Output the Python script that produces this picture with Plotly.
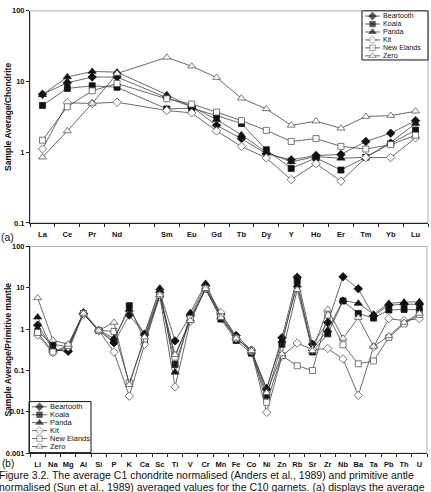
import plotly.graph_objects as go

# ---------------- data ----------------
ree_slots = ["La", "Ce", "Pr", "Nd", "Pm", "Sm", "Eu", "Gd", "Tb", "Dy", "Y", "Ho", "Er", "Tm", "Yb", "Lu"]
ree_elements = ["La", "Ce", "Pr", "Nd", "Sm", "Eu", "Gd", "Tb", "Dy", "Y", "Ho", "Er", "Tm", "Yb", "Lu"]

ree_beartooth = [6.6, 9.6, 11.6, 11.6, 5.9, 4.4, 2.4, 1.56, 0.95, 0.78, 0.90, 0.93, 1.42, 1.86, 2.8]
ree_koala = [4.6, 8.0, 8.7, 8.3, 4.1, 4.2, 3.3, 2.55, 1.08, 0.59, 0.83, 0.56, 0.85, 1.32, 2.06]
ree_panda = [6.5, 11.6, 13.9, 13.6, 6.5, 4.4, 2.9, 1.76, 1.0, 0.73, 0.87, 0.82, 0.85, 1.38, 2.55]
ree_kit = [1.11, 5.0, 4.9, 5.1, 3.9, 3.6, 2.0, 1.21, 0.83, 0.41, 0.69, 0.39, 0.84, 0.84, 1.6]
ree_new_elands = [1.48, 4.4, 7.4, 9.4, 5.7, 4.8, 3.7, 2.8, 2.04, 1.42, 1.56, 1.21, 1.11, 1.28, 1.74]
ree_zero = [0.85, 2.0, 4.9, 13.0, 22.0, 16.5, 11.4, 5.8, 4.1, 2.4, 2.75, 2.18, 3.2, 3.3, 3.8]

pm_elements = ["Li", "Na", "Mg", "Al", "Si", "P", "K", "Ca", "Sc", "Ti", "V", "Cr", "Mn",
               "Fe", "Co", "Ni", "Zn", "Rb", "Sr", "Zr", "Nb", "Ba", "Ta", "Pb", "Th", "U"]
pm_beartooth = [1.25, 0.32, 0.29, 2.4, 0.93, 0.47, 2.2, 0.76, 7.8, 0.52, 2.1, 11.2, 2.3,
                0.70, 0.31, 0.035, 0.62, 18.0, 0.43, 1.45, 18.5, 9.5, 2.1, 3.8, 4.0, 4.0]
pm_koala = [0.88, 0.43, 0.37, 2.4, 0.93, 0.52, 3.7, 0.53, 7.0, 0.14, 1.75, 9.4, 1.75,
            0.53, 0.26, 0.025, 0.43, 14.4, 0.28, 0.77, 4.8, 2.4, 1.85, 2.9, 3.0, 2.95]
pm_panda = [1.95, 0.31, 0.31, 2.6, 0.95, 0.60, 3.0, 0.76, 9.8, 0.09, 2.5, 12.8, 2.0,
            0.63, 0.28, 0.038, 0.53, 11.5, 0.34, 0.95, 5.0, 4.2, 2.3, 4.2, 4.5, 4.6]
pm_kit = [0.72, 0.27, 0.37, 2.3, 0.93, 0.28, 0.024, 0.43, 6.2, 0.04, 1.57, 9.5, 2.5,
          0.60, 0.30, 0.0097, 0.22, 0.46, 0.32, 0.34, 0.19, 0.025, 0.37, 1.8, 1.6, 1.8]
pm_new_elands = [0.83, 0.28, 0.40, 2.35, 0.93, 0.88, 0.05, 0.58, 6.5, 0.21, 1.8, 9.5, 2.0,
                 0.60, 0.30, 0.017, 0.23, 0.13, 0.10, 2.2, 0.42, 0.145, 0.17, 0.63, 1.34, 2.25]
pm_zero = [5.7, 0.54, 0.43, 2.4, 0.93, 1.45, 0.045, 0.64, 6.7, 0.24, 1.6, 9.5, 1.9,
           0.60, 0.30, 0.029, 0.25, 9.0, 0.30, 3.0, 0.60, 1.9, 0.38, 0.68, 1.45, 2.4]

series_names = ["Beartooth", "Koala", "Panda", "Kit", "New Elands", "Zero"]
ree_series = [ree_beartooth, ree_koala, ree_panda, ree_kit, ree_new_elands, ree_zero]
pm_series = [pm_beartooth, pm_koala, pm_panda, pm_kit, pm_new_elands, pm_zero]

y1_ticks = [100, 10, 1, 0.1]
y1_ticktext = ["100", "10", "1", "0.1"]
y2_ticks = [100, 10, 1, 0.1, 0.01, 0.001]
y2_ticktext = ["100", "10", "1", "0.1", "0.01", "0.001"]

caption1 = "Figure 3.2. The average C1 chondrite normalised (Anders et al., 1989) and primitive antle"
caption2 = "normalised (Sun et al., 1989) averaged values for the C10 garnets. (a) displays the average"

# ---------------- styles ----------------
styles = {
    "Beartooth": dict(symbol="diamond", size=6.5, fill="#111111", edge="#111111"),
    "Koala": dict(symbol="square", size=6, fill="#111111", edge="#111111"),
    "Panda": dict(symbol="triangle-up", size=7, fill="#111111", edge="#111111"),
    "Kit": dict(symbol="diamond", size=6.5, fill="white", edge="#555555"),
    "New Elands": dict(symbol="square", size=6, fill="white", edge="#555555"),
    "Zero": dict(symbol="triangle-up", size=7, fill="white", edge="#555555"),
}
LINE = "#444444"
FONT = "Liberation Sans, Arial, sans-serif"
W, H = 431, 492

def px(x):
    return x / W

def py(y):
    return 1 - y / H

fig = go.Figure()

ree_x = [ree_slots.index(e) for e in ree_elements]
pm_x = list(range(len(pm_elements)))

for name, vals in zip(series_names, ree_series):
    s = styles[name]
    fig.add_trace(go.Scatter(
        x=ree_x, y=vals, mode="lines+markers", name=name, showlegend=False,
        line=dict(color=LINE, width=0.8),
        marker=dict(symbol=s["symbol"], size=s["size"], color=s["fill"],
                    line=dict(color=s["edge"], width=0.8)),
        xaxis="x", yaxis="y"))

for name, vals in zip(series_names, pm_series):
    s = styles[name]
    fig.add_trace(go.Scatter(
        x=pm_x, y=vals, mode="lines+markers", name=name, showlegend=False,
        line=dict(color=LINE, width=0.8),
        marker=dict(symbol=s["symbol"], size=s["size"], color=s["fill"],
                    line=dict(color=s["edge"], width=0.8)),
        xaxis="x2", yaxis="y2"))

# ---------- manual legends (compact, as in the reference) ----------
legend_specs = [
    # axes, box (x0,x1,y0,y1) in pixels, first row y, row step, line x0,x1, text x, font size
    ("x3", "y3", (362, 428, 7, 57), 12.3, 8.1, 365, 380, 382, 7.1),
    ("x4", "y4", (29, 91, 405, 457), 410.3, 8.1, 32, 47, 48.5, 7.5),
]
annotations = []
shapes = []
for xa, ya, box, y0, dy, lx0, lx1, tx, fs in legend_specs:
    bx0, bx1, by0, by1 = box
    shapes.append(dict(type="rect", xref="paper", yref="paper",
                       x0=px(bx0), x1=px(bx1), y0=py(by1), y1=py(by0),
                       line=dict(color="#111111", width=1), fillcolor="white", layer="below"))
    for i, name in enumerate(series_names):
        s = styles[name]
        yy = y0 + i * dy
        fig.add_trace(go.Scatter(
            x=[lx0, (lx0 + lx1) / 2, lx1], y=[yy, yy, yy], mode="lines+markers",
            showlegend=False, hoverinfo="skip",
            line=dict(color=LINE, width=0.8),
            marker=dict(symbol=s["symbol"], size=[0, s["size"] - 0.5, 0], color=s["fill"],
                        line=dict(color=s["edge"], width=0.8)),
            xaxis=xa, yaxis=ya))
        annotations.append(dict(x=tx, y=yy, xref=xa, yref=ya, text=name, showarrow=False,
                                xanchor="left", yanchor="middle", borderpad=0,
                                font=dict(family=FONT, size=fs, color="#111111")))

# ---------- axes ----------
tick_font = dict(family=FONT, size=7.5, color="#111111", weight="bold")
common_x = dict(showgrid=False, zeroline=False, showline=True, linecolor="#222222", linewidth=1,
                ticks="", tickfont=tick_font, ticklabelstandoff=4)
common_y = dict(type="log", showgrid=False, zeroline=False, showline=True, linecolor="#222222",
                linewidth=1, ticks="outside", ticklen=3, tickcolor="#222222", tickfont=tick_font)

top_dom_x = [px(30), px(428)]
top_dom_y = [py(223), py(7)]
bot_dom_x = [px(30), px(427)]
bot_dom_y = [py(457.5), py(247)]

fig.update_layout(
    width=W, height=H, margin=dict(l=0, r=0, t=0, b=0),
    paper_bgcolor="white", plot_bgcolor="rgba(0,0,0,0)", showlegend=False,
    xaxis=dict(domain=top_dom_x, anchor="y", range=[-0.5, len(ree_slots) - 0.5],
               tickmode="array", tickvals=ree_x, ticktext=ree_elements,
               minor=dict(tickmode="array", tickvals=[i - 0.5 for i in range(len(ree_slots) + 1)],
                          ticks="outside", ticklen=3, tickcolor="#222222"),
               **common_x),
    yaxis=dict(domain=top_dom_y, anchor="x", range=[-1, 2],
               tickmode="array", tickvals=y1_ticks, ticktext=y1_ticktext, **common_y),
    xaxis2=dict(domain=bot_dom_x, anchor="y2", range=[-0.5, len(pm_elements) - 0.5],
                tickmode="array", tickvals=pm_x, ticktext=pm_elements,
                minor=dict(tickmode="array", tickvals=[i - 0.5 for i in range(len(pm_elements) + 1)],
                           ticks="outside", ticklen=3, tickcolor="#222222"),
                **common_x),
    yaxis2=dict(domain=bot_dom_y, anchor="x2", range=[-3, 2],
                tickmode="array", tickvals=y2_ticks, ticktext=y2_ticktext, **common_y),
    xaxis3=dict(domain=[px(362), px(428)], anchor="y3", range=[362, 428], visible=False),
    yaxis3=dict(domain=[py(57), py(7)], anchor="x3", range=[57, 7], visible=False),
    xaxis4=dict(domain=[px(29), px(91)], anchor="y4", range=[29, 91], visible=False),
    yaxis4=dict(domain=[py(457), py(405)], anchor="x4", range=[457, 405], visible=False),
)

# light frame on top/right of plot areas
for dx, dy in ((top_dom_x, top_dom_y), (bot_dom_x, bot_dom_y)):
    shapes.insert(0, dict(type="rect", xref="paper", yref="paper", x0=dx[0], x1=dx[1],
                          y0=dy[0], y1=dy[1], line=dict(color="#b0b0b0", width=1), layer="below"))

title_font = dict(family=FONT, size=8.5, color="#111111", weight="bold")
annotations += [
    dict(x=px(8), y=py(115), xref="paper", yref="paper", text="Sample Average/Chondrite",
         textangle=-90, showarrow=False, font=title_font, xanchor="center", yanchor="middle"),
    dict(x=px(8), y=py(352), xref="paper", yref="paper", text="Sample Average/Primitive mantle",
         textangle=-90, showarrow=False, font=title_font, xanchor="center", yanchor="middle"),
    dict(x=px(0), y=py(237), xref="paper", yref="paper", text="(a)", showarrow=False,
         xanchor="left", yanchor="middle", borderpad=0,
         font=dict(family=FONT, size=10.5, color="#111111")),
    dict(x=px(1), y=py(468.5), xref="paper", yref="paper", text="(b)", showarrow=False,
         xanchor="left", yanchor="middle", borderpad=0,
         font=dict(family=FONT, size=10, color="#111111")),
    dict(x=px(-2), y=py(479.5), xref="paper", yref="paper", text=caption1, showarrow=False,
         xanchor="left", yanchor="middle", borderpad=0,
         font=dict(family=FONT, size=10.5, color="#111111")),
    dict(x=px(-2), y=py(492), xref="paper", yref="paper", text=caption2, showarrow=False,
         xanchor="left", yanchor="middle", borderpad=0,
         font=dict(family=FONT, size=10.5, color="#111111")),
]
fig.update_layout(annotations=annotations, shapes=shapes)

fig.write_html("out.html")
